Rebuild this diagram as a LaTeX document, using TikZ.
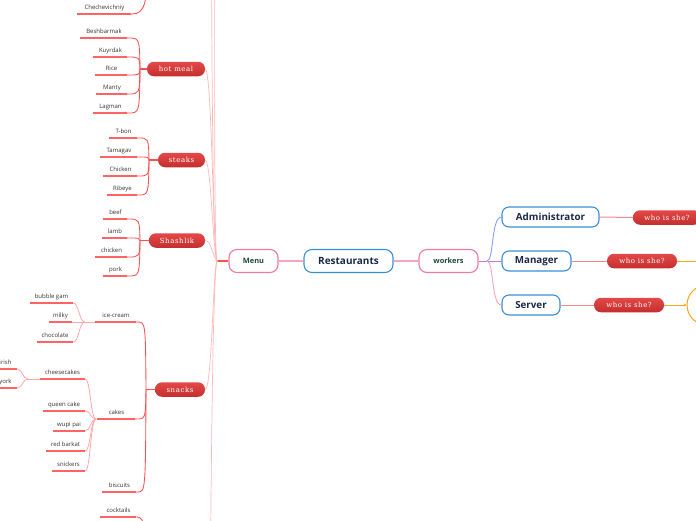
\documentclass[tikz,border=0pt]{standalone}
\usepackage{fontspec}
\setmainfont{Open Sans}
\newfontfamily\catfont[LetterSpace=8]{DejaVu Serif}
\usetikzlibrary{arrows.meta}
\definecolor{leafred}{HTML}{FF6464}
\definecolor{brkred}{HTML}{FF5050}
\definecolor{palered}{HTML}{FFB8B8}
\definecolor{paleleaf}{HTML}{FFA8A8}
\definecolor{cattop}{HTML}{E44848}
\definecolor{catbot}{HTML}{C42E2E}
\definecolor{mainblue}{HTML}{3A8FD8}
\definecolor{mainpink}{HTML}{EE7AA0}
\definecolor{navy}{HTML}{1B2A4A}
\definecolor{dgreen}{HTML}{1D4A38}
\definecolor{linkpink}{HTML}{F5A5BE}
\definecolor{linkblue}{HTML}{8A9EF2}
\definecolor{linkpurple}{HTML}{C07ACC}
\definecolor{linkred}{HTML}{F08A8A}
\definecolor{orng}{HTML}{FFA31A}
\definecolor{leaftext}{HTML}{333333}
\tikzset{
  leaf/.style={anchor=south, inner xsep=0pt, inner ysep=4.6pt, text depth=0pt,
    font=\fontsize{6}{7}\selectfont, text=leaftext},
  under/.style={draw=leafred, line width=1.7pt},
  brk/.style={draw=brkred, line width=0.85pt},
  pale/.style={draw=paleleaf, line width=0.8pt},
  palem/.style={draw=palered, line width=0.7pt},
  jct/.style={draw=brkred, line width=1.6pt},
  cat/.style={top color=cattop, bottom color=catbot, draw=none, rounded corners=7pt,
    minimum height=14.5pt, inner sep=0pt, text=white, font=\catfont\fontsize{7}{8}\selectfont},
  mainbox/.style={draw=mainblue, line width=1.1pt, fill=white, rounded corners=8pt,
    minimum height=23pt, inner sep=0pt, text=navy, font=\bfseries\fontsize{10}{11}\selectfont},
  subbox/.style={draw=mainblue, line width=1.1pt, fill=white, rounded corners=7pt,
    minimum height=20pt, inner sep=0pt, text=navy, font=\bfseries\fontsize{9.8}{11}\selectfont},
  pinkbox/.style={draw=mainpink, line width=1.1pt, fill=white, rounded corners=8pt,
    minimum height=23pt, inner sep=0pt, text=dgreen, font=\bfseries\fontsize{7.4}{8}\selectfont},
  tip/.style={-{Stealth[length=2.6pt,width=2.6pt]}}
}
\newcommand\leafA[5]{\node[leaf, minimum width={(#3-#2)*1pt}] (#1) at ({(#2+#3)/2},#4) {#5};
  \draw[under,tip] (#1.south west) -- (#1.south east);}
\newcommand\leafB[5]{\node[leaf, minimum width={(#3-#2)*1pt}] (#1) at ({(#2+#3)/2},#4) {#5};
  \draw[under] (#1.south west) -- (#1.south east);}
\newcommand\brk[4]{\draw[brk] (#1) .. controls (#2,#3) and (#2,#3) .. (#4);}
\newcommand\scur[5]{\draw[pale] (#1) .. controls (#2,#3) and (#2,#4) .. (#5);}
\begin{document}
\begin{tikzpicture}[x=1pt,y=-1pt]
\useasboundingbox (0,0) rectangle (696,520);
\clip (0,0) rectangle (696,520);

% ---- main nodes
\node[mainbox, minimum width=89pt] (rest) at (348.5,261) {Restaurants};
\node[pinkbox, minimum width=49pt] (menu) at (253.5,261) {Menu};
\node[pinkbox, minimum width=59pt] (work) at (448.5,261) {workers};
\node[subbox, minimum width=97pt] (adm) at (550.5,217) {Administrator};
\node[subbox, minimum width=69pt] (man) at (536.5,261) {Manager};
\node[subbox, minimum width=58pt] (srv) at (531,305) {Server};
\node[cat, minimum width=68pt] (who1) at (667,217.5) {who is she?};
\node[cat, minimum width=70pt] (who2) at (642,261) {who is she?};
\node[cat, minimum width=70pt] (who3) at (629,305) {who is she?};
\node[draw=orng, line width=1pt, circle, minimum size=40pt, inner sep=0pt] (circ) at (707,305) {};
\coordinate (oend) at (700,261);

\draw[linkpink, line width=1.1pt] (rest.west) -- (menu.east);
\draw[linkpink, line width=1.1pt] (rest.east) -- (work.west);
\coordinate (wj) at (487,261);
\draw[linkpurple, line width=1pt] (work.east) -- (wj);
\draw[linkblue, line width=0.9pt] (wj) .. controls (494,261) and (491,217) .. (adm.west);
\draw[linkpurple, line width=0.9pt] (wj) -- (man.west);
\draw[linkpink, line width=0.9pt] (wj) .. controls (494,261) and (491,305) .. (srv.west);
\draw[linkred, line width=1pt] (adm.east) -- (who1.west);
\draw[linkred, line width=1pt] (man.east) -- (who2.west);
\draw[linkred, line width=1pt] (srv.east) -- (who3.west);
\draw[orng, line width=1pt] (who2.east) -- (oend);
\draw[orng, line width=1pt, tip] (who3.east) -- (circ.west);

% ---- categories
\coordinate (mj) at (217,261);
\draw[jct] (menu.west) -- (mj);
\node[cat, minimum width=58pt] (hot) at (176,69) {hot meal};
\node[cat, minimum width=47pt] (stk) at (181.5,160) {steaks};
\node[cat, minimum width=56pt] (sha) at (177,240.5) {Shashlik};
\node[cat, minimum width=50pt] (snk) at (180,389.5) {snacks};
\coordinate (up1) at (211,-120);
\coordinate (up2) at (215,-220);
\coordinate (dn1) at (210,640);
\draw[palem] (hot.east) .. controls (212,69) and (213,252) .. (mj);
\draw[palem] (stk.east) .. controls (211,160) and (213,254) .. (mj);
\draw[palem] (sha.east) .. controls (211,240) and (213,257) .. (mj);
\draw[palem] (snk.east) .. controls (212,389) and (213,268) .. (mj);
\draw[palem] (mj) .. controls (213,250) and (212,100) .. (up1);
\draw[palem] (mj) .. controls (214,250) and (214.5,60) .. (up2);
\draw[palem] (mj) .. controls (213,272) and (211,460) .. (dn1);

% ---- Chechevichniy (parent above)
\leafA{chec}{77}{132}{14}{Chechevichniy}
\coordinate (upc) at (148,-40);
\draw[brk] (chec.south east) .. controls (146,14) and (147,0) .. (upc);

% ---- hot meal
\coordinate (hj) at (140,69);
\draw[jct] (hot.west) -- (hj);
\leafA{besh}{80}{128}{38}{Beshbarmak}
\leafA{kuy}{93}{128}{57}{Kuyrdak}
\leafA{rice}{95}{128}{75}{Rice}
\leafA{manty}{96}{128}{94}{Manty}
\leafA{lag}{93}{128}{113}{Lagman}
\brk{hj}{139.5}{38}{besh.south east}
\brk{hj}{139.5}{57}{kuy.south east}
\brk{hj}{139.5}{75}{rice.south east}
\brk{hj}{139.5}{94}{manty.south east}
\brk{hj}{139.5}{113}{lag.south east}

% ---- steaks
\coordinate (sj) at (149,160);
\draw[jct] (stk.west) -- (sj);
\leafA{tbon}{109}{138}{138}{T-bon}
\leafA{tam}{100}{138}{157}{Tamagav}
\leafA{chk}{103}{138}{176}{Chicken}
\leafA{rib}{107}{138}{195}{Ribeye}
\brk{sj}{148.5}{138}{tbon.south east}
\brk{sj}{148.5}{157}{tam.south east}
\brk{sj}{148.5}{176}{chk.south east}
\brk{sj}{148.5}{195}{rib.south east}

% ---- Shashlik
\coordinate (shj) at (140,240.5);
\draw[jct] (sha.west) -- (shj);
\leafA{beef}{103}{128}{219}{beef}
\leafA{lamb}{102}{128}{238}{lamb}
\leafA{chk2}{95}{128}{257}{chicken}
\leafA{pork}{103}{128}{276}{pork}
\brk{shj}{139.5}{219}{beef.south east}
\brk{shj}{139.5}{238}{lamb.south east}
\brk{shj}{139.5}{257}{chk2.south east}
\brk{shj}{139.5}{276}{pork.south east}

% ---- snacks
\coordinate (snj) at (146,389.5);
\draw[jct] (snk.west) -- (snj);
\leafA{ice}{95}{137}{322}{ice-cream}
\leafA{cakes}{97}{136}{419}{cakes}
\leafA{bis}{102}{137}{492}{biscuits}
\brk{snj}{145.5}{322}{ice.south east}
\brk{snj}{145.5}{419}{cakes.south east}
\brk{snj}{145.5}{492}{bis.south east}

% ---- cocktails (parent below)
\leafA{cock}{100}{137}{517}{cocktails}
\coordinate (dnc) at (150,560);
\draw[brk] (cock.south east) .. controls (144,517) and (147,530) .. (dnc);

% ---- ice-cream children
\coordinate (icej) at (85,322);
\draw[pale] (ice.south west) -- (icej);
\leafB{bub}{30}{73}{303}{bubble gam}
\leafB{milky}{49}{72}{322}{milky}
\leafB{choc}{37}{73}{342}{chocolate}
\scur{icej}{79}{322}{303}{bub.south east}
\draw[pale] (icej) -- (milky.south east);
\scur{icej}{79}{322}{342}{choc.south east}

% ---- cakes children
\coordinate (cj) at (96,419);
\leafB{chs}{40}{85}{379}{cheesecakes}
\leafB{queen}{43}{85}{411}{queen cake}
\leafB{wupi}{53}{85}{431}{wupi pai}
\leafB{red}{46}{85}{451}{red barkat}
\leafB{snick}{52}{85}{471}{snickers}
\scur{cj}{90.5}{419}{379}{chs.south east}
\scur{cj}{90.5}{419}{411}{queen.south east}
\scur{cj}{90.5}{419}{431}{wupi.south east}
\scur{cj}{90.5}{419}{451}{red.south east}
\scur{cj}{90.5}{419}{471}{snick.south east}

% ---- cheesecakes children
\coordinate (chj) at (28,379);
\draw[pale] (chs.south west) -- (chj);
\leafB{irish}{-6}{17}{369}{irish}
\leafB{york}{-6}{17}{388}{york}
\scur{chj}{22.5}{379}{369}{irish.south east}
\scur{chj}{22.5}{379}{388}{york.south east}
\end{tikzpicture}
\end{document}
